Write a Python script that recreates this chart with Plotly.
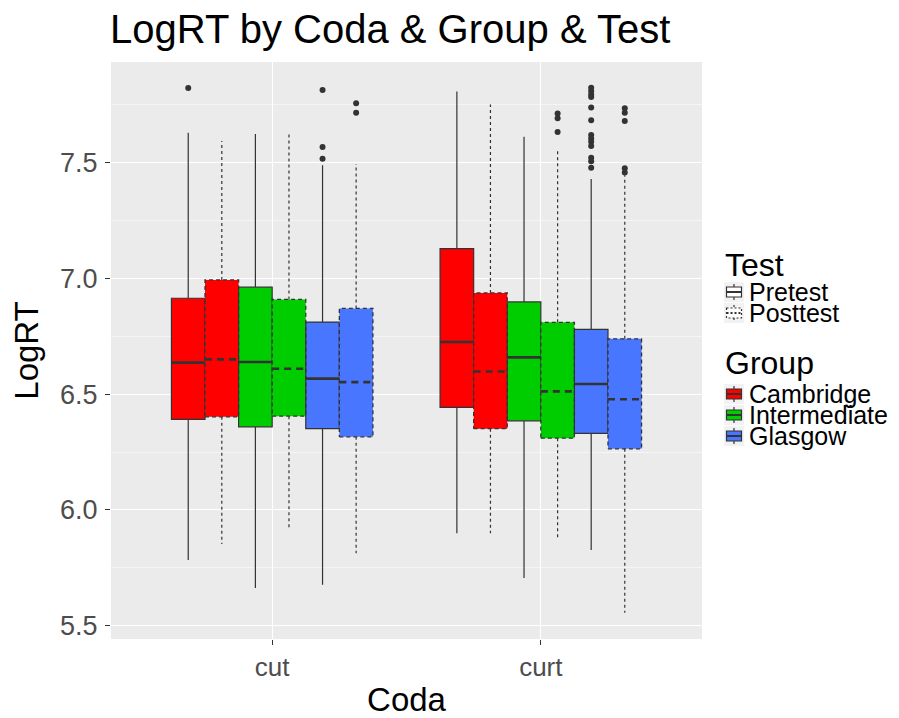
import plotly.graph_objects as go

# ---------------- data ----------------
codas = ["cut", "curt"]
coda_pos = [0, 1]
groups = ["Cambridge", "Intermediate", "Glasgow"]
tests = ["Pretest", "Posttest"]
group_colors = ["#FF0000", "#00CD00", "#4876FF"]

# series order: Cambridge-Pre, Cambridge-Post, Intermediate-Pre, Intermediate-Post, Glasgow-Pre, Glasgow-Post
# each entry: [cut, curt]
q1 = [[6.391, 6.443], [6.402, 6.351], [6.359, 6.385], [6.405, 6.310], [6.351, 6.331], [6.316, 6.264]]
median = [[6.636, 6.725], [6.650, 6.598], [6.639, 6.659], [6.610, 6.512], [6.567, 6.544], [6.552, 6.478]]
q3 = [[6.914, 7.128], [6.993, 6.937], [6.962, 6.898], [6.909, 6.810], [6.811, 6.780], [6.870, 6.739]]
lower = [[5.784, 5.899], [5.853, 5.899], [5.663, 5.706], [5.925, 5.873], [5.677, 5.827], [5.813, 5.556]]
upper = [[7.629, 7.807], [7.593, 7.750], [7.623, 7.611], [7.629, 7.554], [7.488, 7.429], [7.494, 7.445]]
outliers = [
    [[7.822], []],
    [[], []],
    [[], []],
    [[], [7.712, 7.691, 7.632]],
    [[7.813, 7.567, 7.516],
     [7.823, 7.809, 7.794, 7.783, 7.738, 7.682, 7.619, 7.604, 7.590, 7.571, 7.521, 7.506, 7.478]],
    [[7.756, 7.715], [7.734, 7.715, 7.679, 7.475, 7.457]],
]

y_ticks = [5.5, 6.0, 6.5, 7.0, 7.5]

# ---------------- layout constants ----------------
FONT = "Liberation Sans, Arial, sans-serif"
DARK = "#333333"
W, H = 891, 710          # page body has an 8px margin
ml, mt = 103, 54
plot_w, plot_h = 591, 577
n_series = 6
dodge = 0.75
bw = dodge / n_series


def offset(k):
    return -dodge / 2 + (k + 0.5) * bw


def px(xf):   # figure pixel -> paper x
    return (xf - ml) / plot_w


def py(yf):   # figure pixel -> paper y
    return 1 - (yf - mt) / plot_h


fig = go.Figure()

series = [(g, t) for g in range(3) for t in range(2)]

for k, (g, t) in enumerate(series):
    pre = t == 0
    fig.add_trace(go.Box(
        x=coda_pos,
        q1=q1[k], median=median[k], q3=q3[k],
        lowerfence=lower[k], upperfence=upper[k],
        name=groups[g] + " " + tests[t],
        offsetgroup=str(k),
        fillcolor=group_colors[g],
        line=dict(color=DARK if pre else "rgba(0,0,0,0)", width=1.2 if pre else 0),
        whiskerwidth=0,
        boxpoints=False,
        showlegend=False,
        hoverinfo="skip",
    ))

# thick medians for pretest, dashed outlines for posttest
med_x, med_y = [], []
box_x, box_y = [], []
wh_x, wh_y = [], []
pmed_x, pmed_y = [], []
out_x, out_y = [], []
for k, (g, t) in enumerate(series):
    for ci in range(2):
        xc = coda_pos[ci] + offset(k)
        x0, x1 = xc - bw / 2, xc + bw / 2
        if t == 0:
            med_x += [x0, x1, None]
            med_y += [median[k][ci], median[k][ci], None]
        else:
            box_x += [x0, x1, x1, x0, x0, None]
            box_y += [q1[k][ci], q1[k][ci], q3[k][ci], q3[k][ci], q1[k][ci], None]
            wh_x += [xc, xc, None, xc, xc, None]
            wh_y += [q3[k][ci], upper[k][ci], None, q1[k][ci], lower[k][ci], None]
            pmed_x += [x0, x1, None]
            pmed_y += [median[k][ci], median[k][ci], None]
        for v in outliers[k][ci]:
            out_x.append(xc)
            out_y.append(v)

fig.add_trace(go.Scatter(x=wh_x, y=wh_y, mode="lines", showlegend=False, hoverinfo="skip",
                         line=dict(color=DARK, width=1.2, dash="3px,3px")))
fig.add_trace(go.Scatter(x=box_x, y=box_y, mode="lines", showlegend=False, hoverinfo="skip",
                         line=dict(color=DARK, width=1.3, dash="4px,3px")))
fig.add_trace(go.Scatter(x=pmed_x, y=pmed_y, mode="lines", showlegend=False, hoverinfo="skip",
                         line=dict(color=DARK, width=2.6, dash="7px,5px")))
fig.add_trace(go.Scatter(x=med_x, y=med_y, mode="lines", showlegend=False, hoverinfo="skip",
                         line=dict(color=DARK, width=2.6)))
fig.add_trace(go.Scatter(x=out_x, y=out_y, mode="markers", showlegend=False, hoverinfo="skip",
                         marker=dict(color=DARK, size=6)))

# ---------------- ggplot-style legends (Test, Group) ----------------
shapes, annotations = [], []
KEY_X = 716          # figure px, left edge of legend keys
KEY = 20
TEXT_X = 739


def add_key(yc, fill, dash):
    x0, x1 = KEY_X, KEY_X + KEY
    y0, y1 = yc - KEY / 2, yc + KEY / 2
    xm = (x0 + x1) / 2
    shapes.append(dict(type="rect", xref="paper", yref="paper",
                       x0=px(x0), x1=px(x1), y0=py(y0), y1=py(y1),
                       fillcolor="#F2F2F2", line=dict(width=0), layer="above"))
    line = dict(color=DARK, width=1.2, dash=dash)
    for (ya, yb) in [(y0 + 2, yc - 5), (yc + 5, y1 - 2)]:
        shapes.append(dict(type="line", xref="paper", yref="paper",
                           x0=px(xm), x1=px(xm), y0=py(ya), y1=py(yb), line=line, layer="above"))
    shapes.append(dict(type="rect", xref="paper", yref="paper",
                       x0=px(x0 + 2.5), x1=px(x1 - 2.5), y0=py(yc - 5), y1=py(yc + 5),
                       fillcolor=fill, line=line, layer="above"))
    shapes.append(dict(type="line", xref="paper", yref="paper",
                       x0=px(x0 + 2.5), x1=px(x1 - 2.5), y0=py(yc), y1=py(yc),
                       line=dict(color=DARK, width=2, dash=dash), layer="above"))


def add_text(txt, x, yc, size):
    annotations.append(dict(text=txt, xref="paper", yref="paper", x=px(x), y=py(yc),
                            xanchor="left", yanchor="middle", showarrow=False,
                            font=dict(size=size, color="black", family=FONT)))


add_text("Test", KEY_X - 1, 257, 32)
for t, name in enumerate(tests):
    yc = 284 + t * 21
    add_key(yc, "white", "solid" if t == 0 else "2px,2px")
    add_text(name, TEXT_X, yc, 25)

add_text("Group", KEY_X - 1, 355, 32)
for g, name in enumerate(groups):
    yc = 386 + g * 21
    add_key(yc, group_colors[g], "solid")
    add_text(name, TEXT_X, yc, 25)

fig.update_layout(
    width=W, height=H,
    margin=dict(l=ml, r=W - ml - plot_w, t=mt, b=H - mt - plot_h, autoexpand=False),
    paper_bgcolor="white",
    plot_bgcolor="#EBEBEB",
    boxmode="group", boxgap=0.25, boxgroupgap=0,
    showlegend=False,
    font=dict(family=FONT, color="black"),
    title=dict(text="LogRT by Coda & Group & Test", x=102 / W, xanchor="left",
               y=1 - 21 / H, yanchor="middle", yref="container",
               font=dict(size=40, color="black", family=FONT)),
    xaxis=dict(
        range=[-0.6, 1.6], tickvals=coda_pos, ticktext=codas,
        showgrid=True, gridcolor="white", gridwidth=1.1, zeroline=False,
        ticks="outside", ticklen=5, tickcolor=DARK, tickwidth=1,
        tickfont=dict(size=26, color="#4D4D4D", family=FONT),
        title=dict(text="Coda", font=dict(size=33, color="black", family=FONT), standoff=12),
        showline=False,
    ),
    yaxis=dict(
        range=[5.443, 7.934], tickvals=y_ticks, ticktext=[f"{v:.1f}" for v in y_ticks],
        showgrid=True, gridcolor="white", gridwidth=1.1, zeroline=False,
        minor=dict(dtick=0.25, tick0=5.25, showgrid=True, gridcolor="#F5F5F5", gridwidth=0.6),
        ticks="outside", ticklen=5, tickcolor=DARK, tickwidth=1,
        tickfont=dict(size=27, color="#4D4D4D", family=FONT),
        ticklabelstandoff=2,
        title=dict(text="LogRT", font=dict(size=33, color="black", family=FONT), standoff=12),
        showline=False,
    ),
    shapes=shapes,
    annotations=annotations,
)

fig.write_html("out.html")
